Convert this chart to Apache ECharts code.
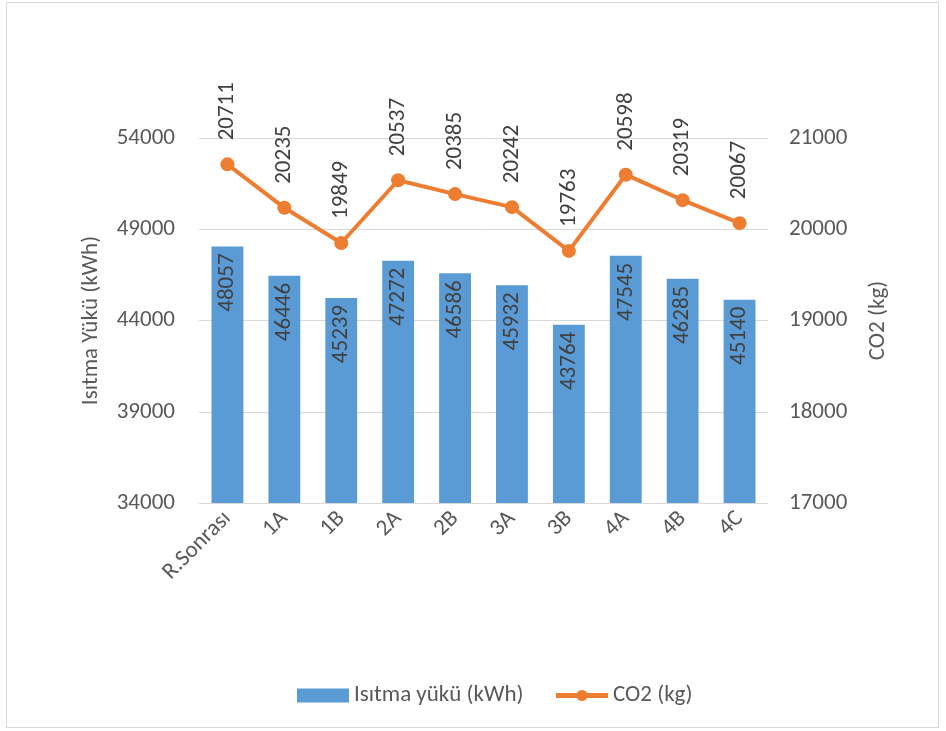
<!DOCTYPE html>
<html><head><meta charset="utf-8">
<script src="https://cdn.jsdelivr.net/npm/echarts@6/dist/echarts.min.js"></script>
<style>
html,body{margin:0;padding:0;background:#fff;}
#frame{position:absolute;left:6px;top:2px;width:933px;height:726px;border:1px solid #d9d9d9;box-sizing:border-box;}
#c{position:absolute;left:0;top:0;width:946px;height:731px;}
</style></head>
<body>
<div id="frame"></div>
<div id="c"></div>
<script>
const categories = ['R.Sonrası','1A','1B','2A','2B','3A','3B','4A','4B','4C'];
const heatLoad = [48057,46446,45239,47272,46586,45932,43764,47545,46285,45140];
const co2 = [20711,20235,19849,20537,20385,20242,19763,20598,20319,20067];
const leftTicks = {min:34000,max:54000,interval:5000};
const rightTicks = {min:17000,max:21000,interval:1000};

const font = 'Carlito, Calibri, "Open Sans", "Liberation Sans", sans-serif';
const txt = '#595959';
const fs = 23;
const plain = v => String(v);
const chart = echarts.init(document.getElementById('c'));
chart.setOption({
  animation:false,
  textStyle:{fontFamily:font},
  grid:{left:199,right:178,top:138,bottom:228,containLabel:false},
  legend:{
    top:679,left:292,itemGap:30,itemWidth:52,itemHeight:14,
    textStyle:{fontSize:23,color:txt,fontFamily:font},
    data:[
      {name:'Isıtma yükü (kWh)',icon:'rect'},
      {name:'CO2 (kg)',lineStyle:{width:5,color:'#ED7D31'},itemStyle:{color:'#ED7D31'}}
    ]
  },
  xAxis:{
    type:'category',data:categories,
    axisLine:{lineStyle:{color:'#d9d9d9'}},axisTick:{show:false},
    axisLabel:{rotate:45,fontSize:fs,color:txt,margin:12,interval:0}
  },
  yAxis:[
    {type:'value',min:leftTicks.min,max:leftTicks.max,interval:leftTicks.interval,
     name:'Isıtma Yükü (kWh)',nameLocation:'middle',nameGap:96,nameRotate:90,
     nameTextStyle:{fontSize:fs,color:txt},
     axisLabel:{fontSize:fs,color:txt,margin:24,formatter:plain},
     splitLine:{lineStyle:{color:'#d9d9d9'}},axisLine:{show:false},axisTick:{show:false}},
    {type:'value',min:rightTicks.min,max:rightTicks.max,interval:rightTicks.interval,
     name:'CO2 (kg)',nameLocation:'middle',nameGap:99,nameRotate:90,
     nameTextStyle:{fontSize:fs,color:txt},
     axisLabel:{fontSize:fs,color:txt,margin:21,formatter:plain},
     splitLine:{show:false},axisLine:{show:false},axisTick:{show:false}}
  ],
  series:[
    {name:'Isıtma yükü (kWh)',type:'bar',data:heatLoad,yAxisIndex:0,barWidth:'56%',
     itemStyle:{color:'#5B9BD5'},
     label:{show:true,position:'insideTop',rotate:90,align:'right',verticalAlign:'middle',distance:7,
       fontSize:fs,color:'#404040',fontFamily:font,formatter:p=>plain(p.value)}},
    {name:'CO2 (kg)',type:'line',data:co2,yAxisIndex:1,
     symbol:'circle',symbolSize:14,
     lineStyle:{color:'#ED7D31',width:4},itemStyle:{color:'#ED7D31'},
     label:{show:true,position:'top',rotate:90,align:'left',verticalAlign:'middle',distance:17,
       fontSize:fs,color:'#404040',fontFamily:font,formatter:p=>plain(p.value)}}
  ]
});
</script>
</body></html>
